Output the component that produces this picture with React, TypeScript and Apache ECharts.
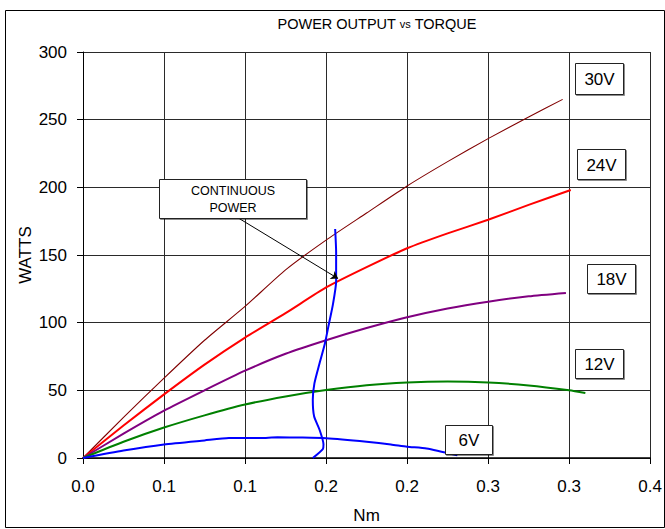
import React, { useEffect, useRef } from "react";
import * as echarts from "echarts";

// ---- data (Nm, W) ----
const xTickLabels = ["0.0", "0.1", "0.1", "0.2", "0.2", "0.3", "0.3", "0.4"];
const yTicks = [0, 50, 100, 150, 200, 250, 300];

const v30: [number, number][] = [
  [0, 0], [0.025, 30], [0.05, 59], [0.075, 87], [0.1, 112], [0.125, 139], [0.15, 161],
  [0.175, 181], [0.2, 201], [0.225, 219], [0.25, 236], [0.275, 252], [0.296, 265],
];
const v24: [number, number][] = [
  [0, 0], [0.025, 24], [0.05, 47], [0.075, 69], [0.1, 89], [0.125, 107], [0.15, 126],
  [0.175, 141], [0.2, 155], [0.225, 166], [0.25, 176], [0.275, 187], [0.301, 198],
];
const v18: [number, number][] = [
  [0, 0], [0.025, 18], [0.05, 35], [0.075, 50], [0.1, 64.5], [0.125, 77], [0.15, 87],
  [0.175, 96], [0.2, 104], [0.225, 110.5], [0.25, 115.5], [0.275, 119.5], [0.298, 122],
];
const v12: [number, number][] = [
  [0, 0], [0.025, 12], [0.05, 22.5], [0.075, 31.5], [0.1, 39.5], [0.125, 45.5], [0.15, 50.2],
  [0.175, 53.8], [0.2, 55.8], [0.225, 56.5], [0.25, 55.8], [0.275, 53.6], [0.3, 50], [0.31, 48],
];
const v6: [number, number][] = [
  [0, 0], [0.025, 5.5], [0.05, 10], [0.075, 13], [0.09, 14.7], [0.11, 14.8], [0.12, 15.3],
  [0.135, 15.1], [0.15, 14.6], [0.175, 12], [0.19, 10], [0.2, 8.3], [0.212, 7], [0.231, 2],
];
const continuous: [number, number][] = [
  [0.1418, 0], [0.148, 6.6], [0.1484, 10.2], [0.1459, 21.1], [0.1426, 30.8], [0.1418, 43],
  [0.1428, 55.1], [0.1459, 69.6], [0.1492, 84.2], [0.1517, 98.8], [0.1542, 113.3],
  [0.1562, 130.4], [0.1562, 152.2], [0.1556, 169.2],
];
const arrowFrom: [number, number] = [0.0944, 178.4];
const arrowTo: [number, number] = [0.1574, 132.6];

const FONT = "'Liberation Sans', Arial, sans-serif";

function labelBox(x: number, y: number, w: number, h: number, text: string, size = 17) {
  return {
    type: "group",
    children: [
      {
        type: "rect",
        shape: { x: x + 0.5, y: y + 0.5, width: w, height: h },
        style: { fill: "#fff", stroke: "#222", lineWidth: 1, shadowColor: "rgba(0,0,0,0.45)", shadowOffsetX: 1, shadowOffsetY: 1, shadowBlur: 0 },
        z: 10,
      },
      {
        type: "text",
        x: x + w / 2 + 0.5,
        y: y + h / 2 + 1,
        style: { text, fill: "#000", font: `${size}px ${FONT}`, textAlign: "center", textVerticalAlign: "middle" },
        z: 11,
      },
    ],
  };
}

export default function App() {
  const ref = useRef<HTMLDivElement>(null);
  useEffect(() => {
    if (!ref.current) return;
    const chart = echarts.init(ref.current, undefined, { renderer: "svg" });
    const line = (name: string, data: [number, number][], color: string, width: number, extra: any = {}) => ({
      type: "line",
      name,
      data,
      showSymbol: false,
      smooth: 0.2,
      lineStyle: { color, width },
      itemStyle: { color },
      silent: true,
      ...extra,
    });
    chart.setOption({
      animation: false,
      backgroundColor: "#fff",
      title: {
        text: "{a|POWER OUTPUT }{b|vs}{a| TORQUE}",
        left: 372,
        top: 11,
        textAlign: "center",
        textStyle: {
          fontWeight: "normal",
          rich: {
            a: { fontFamily: FONT, fontSize: 14.5, fontWeight: "normal", color: "#000" },
            b: { fontFamily: FONT, fontSize: 11, fontWeight: "normal", color: "#000" },
          },
        },
      },
      grid: { left: 83, top: 52, right: 14, bottom: 66, containLabel: false },
      xAxis: {
        type: "value",
        min: 0,
        max: 0.35,
        interval: 0.05,
        name: "Nm",
        nameLocation: "middle",
        nameGap: 49,
        nameMoveOverlap: false,
        nameTextStyle: { fontFamily: FONT, fontSize: 17, color: "#000" },
        axisLine: { show: true, onZero: false, lineStyle: { color: "#000", width: 1.5 } },
        axisTick: { show: true, length: 6, lineStyle: { color: "#000" } },
        axisLabel: {
          margin: 20,
          fontFamily: FONT,
          fontSize: 17,
          color: "#000",
          formatter: (v: number) => xTickLabels[Math.round(v / 0.05)] ?? "",
        },
        splitLine: { show: true, lineStyle: { color: "#2a2a2a", width: 1 } },
      },
      yAxis: {
        type: "value",
        min: yTicks[0],
        max: yTicks[yTicks.length - 1],
        interval: 50,
        name: "WATTS",
        nameLocation: "middle",
        nameGap: 49,
        nameMoveOverlap: false,
        nameRotate: 90,
        nameTextStyle: { fontFamily: FONT, fontSize: 17, color: "#000" },
        axisLine: { show: true, lineStyle: { color: "#000", width: 1 } },
        axisTick: { show: true, length: 6, lineStyle: { color: "#000" } },
        axisLabel: { margin: 16, fontFamily: FONT, fontSize: 17, color: "#000" },
        splitLine: { show: true, lineStyle: { color: "#2a2a2a", width: 1 } },
      },
      series: [
        line("30V", v30, "#800000", 1.1),
        line("24V", v24, "#FF0000", 2),
        line("18V", v18, "#800080", 2),
        line("12V", v12, "#008000", 2),
        line("6V", v6, "#0000FF", 2),
        line("Continuous power", continuous, "#0000FF", 2, {
          markLine: {
            silent: true,
            symbol: ["none", "arrow"],
            symbolSize: 7,
            label: { show: false },
            lineStyle: { color: "#000", width: 1, type: "solid" },
            data: [[{ coord: arrowFrom }, { coord: arrowTo }]],
          },
        }),
      ],
      graphic: [
        {
          type: "rect",
          shape: { x: 5.5, y: 10.5, width: 659, height: 517 },
          style: { fill: "none", stroke: "#000", lineWidth: 1 },
          silent: true,
        },
        {
          type: "group",
          children: [
            {
              type: "rect",
              shape: { x: 159.5, y: 179.5, width: 147, height: 39 },
              style: { fill: "#fff", stroke: "#222", lineWidth: 1, shadowColor: "rgba(0,0,0,0.45)", shadowOffsetX: 1, shadowOffsetY: 1, shadowBlur: 0 },
              z: 10,
            },
            {
              type: "text",
              x: 233,
              y: 191,
              style: { text: "CONTINUOUS", fill: "#000", font: `12.5px ${FONT}`, textAlign: "center", textVerticalAlign: "middle" },
              z: 11,
            },
            {
              type: "text",
              x: 233,
              y: 208,
              style: { text: "POWER", fill: "#000", font: `12.5px ${FONT}`, textAlign: "center", textVerticalAlign: "middle" },
              z: 11,
            },
          ],
        },
        labelBox(575, 63, 48, 31, "30V"),
        labelBox(577, 149, 48, 30, "24V"),
        labelBox(587, 264, 48, 29, "18V"),
        labelBox(575, 349, 48, 29, "12V"),
        labelBox(445, 425, 47, 29, "6V"),
      ],
    });
    return () => chart.dispose();
  }, []);
  return (
    <div
      ref={ref}
      style={{ position: "fixed", left: 0, top: 0, width: 665, height: 529, background: "#fff" }}
    />
  );
}
